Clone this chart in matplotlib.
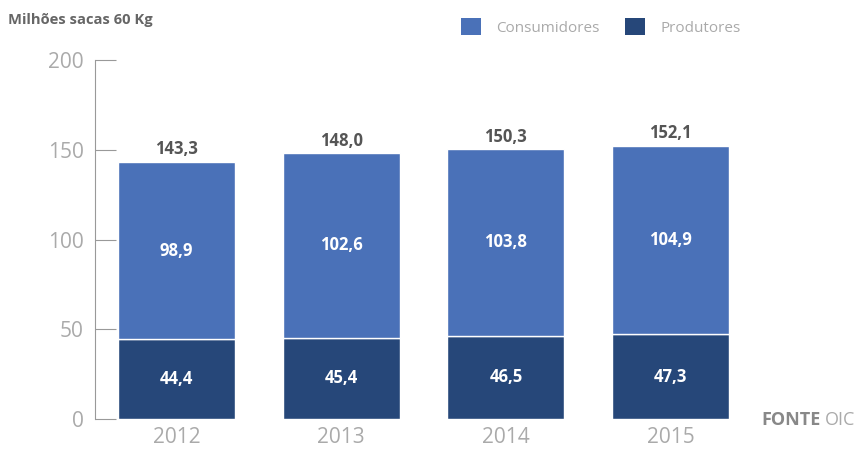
import matplotlib
matplotlib.use("Agg")
import matplotlib.pyplot as plt
from matplotlib.patches import Patch

plt.rcParams['font.family'] = ['Open Sans', 'DejaVu Sans']

years = ['2012', '2013', '2014', '2015']
produtores = [44.4, 45.4, 46.5, 47.3]
consumidores = [98.9, 102.6, 103.8, 104.9]
totais = [143.3, 148.0, 150.3, 152.1]
yticks = [0, 50, 100, 150, 200]

c_cons = '#4a71b8'
c_prod = '#264779'
gray = '#aaaaaa'

def fmt(v):
    return f"{v:.1f}".replace('.', ',')

fig = plt.figure(figsize=(8.59, 4.5), dpi=100)
ax = fig.add_axes([95/859, 1-419/450, (753-95)/859, (419-60)/450])

x = range(len(years))
w = 0.71
ax.bar(x, produtores, width=w, color=c_prod, edgecolor='white', linewidth=1)
ax.bar(x, consumidores, width=w, bottom=produtores, color=c_cons, edgecolor='white', linewidth=1)

for i in x:
    ax.text(i, produtores[i]/2, fmt(produtores[i]), ha='center', va='center',
            color='white', fontsize=12, fontweight='bold')
    ax.text(i, produtores[i] + consumidores[i]/2, fmt(consumidores[i]), ha='center', va='center',
            color='white', fontsize=12, fontweight='bold')
    ax.text(i, totais[i] + 2, fmt(totais[i]), ha='center', va='bottom',
            color='#555555', fontsize=12, fontweight='bold')

ax.set_xlim(-0.494, 3.5)
ax.set_ylim(0, 200)
ax.set_yticks(yticks)
ax.set_xticks(list(x))
ax.set_xticklabels(years)
for s in ['top', 'right', 'bottom']:
    ax.spines[s].set_visible(False)
ax.spines['left'].set_color('#999999')
ax.tick_params(axis='y', direction='in', length=15, color='#999999', labelcolor=gray,
               labelsize=15, pad=8)
ax.tick_params(axis='x', length=0, labelcolor=gray, labelsize=15, pad=6)

fig.text(8/859, 1-20/450, 'Milhões sacas 60 Kg', fontsize=10.6, fontweight='bold',
         color='#666666', va='center', ha='left')

handles = [Patch(facecolor=c_cons, edgecolor='none'), Patch(facecolor=c_prod, edgecolor='none')]
fig.legend(handles, ['Consumidores', 'Produtores'], loc='center left',
           bbox_to_anchor=(447/859, 1-27/450), ncol=2, frameon=False,
           fontsize=11, labelcolor=gray, handlelength=1.3, handleheight=1.3,
           handletextpad=1.0, columnspacing=1.7)

y_src = 1 - 420/450
t_oic = fig.text(855/859, y_src, 'OIC', fontsize=13, color=gray, ha='right', va='center')
t_fonte = fig.text(855/859, y_src, 'FONTE', fontsize=13, fontweight='bold', color='#888888',
                   ha='right', va='center')
fig.canvas.draw()
bb = t_oic.get_window_extent(fig.canvas.get_renderer())
t_fonte.set_position(((bb.x0 - 4)/859, y_src))

fig.savefig('out.png', dpi=100)
